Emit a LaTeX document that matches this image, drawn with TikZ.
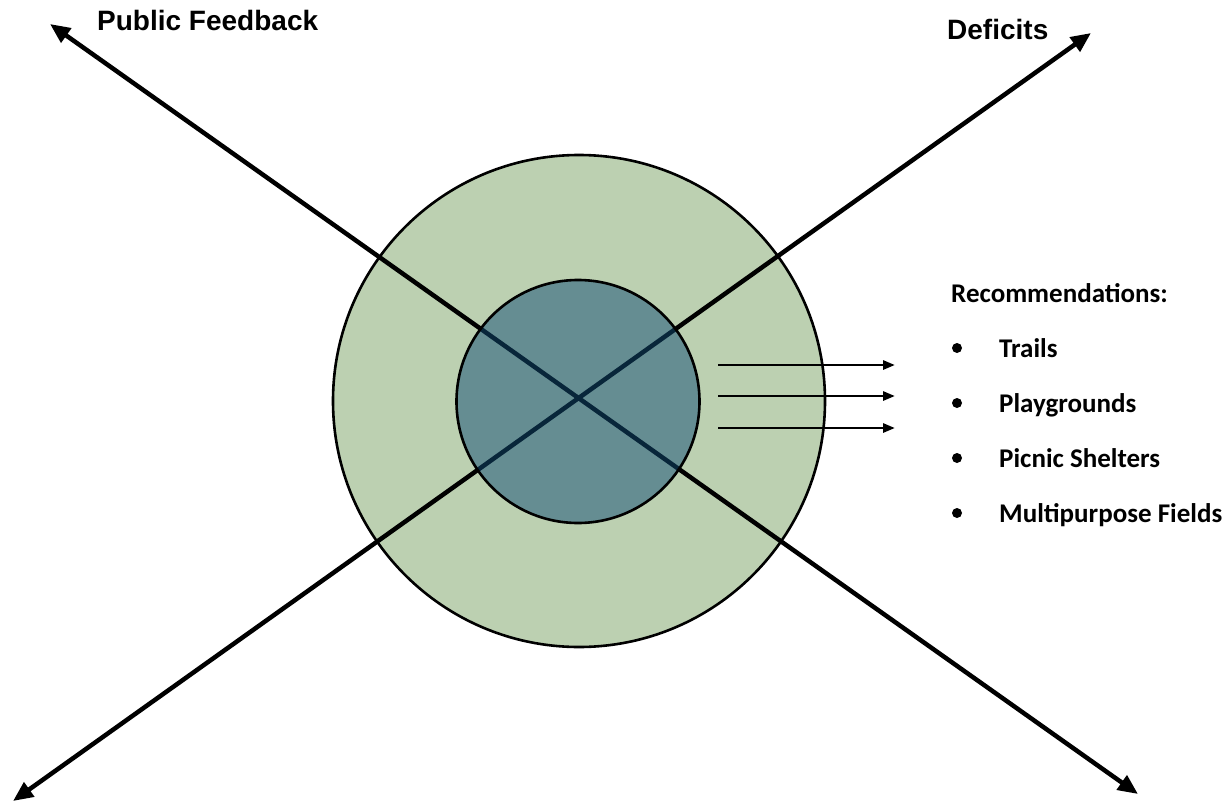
\documentclass[tikz,border=0pt]{standalone}
\usepackage{fontspec}
\setmainfont{Liberation Sans}
\newfontfamily\calib{Carlito}
\usetikzlibrary{arrows.meta}
\definecolor{ringgreen}{RGB}{188,208,177}
\definecolor{coreteal}{RGB}{16,76,116}
\tikzset{
  bigarrow/.style={line width=4.5pt,{Triangle[length=20pt,width=17pt]}-{Triangle[length=20pt,width=17pt]}},
  smallarrow/.style={line width=2.8pt,-{Triangle[length=12pt,width=9pt]}},
  headlabel/.style={font=\fontsize{28}{32}\selectfont\bfseries,anchor=base west,inner sep=0pt},
  reclabel/.style={font=\calib\fontsize{27}{32}\selectfont\bfseries,anchor=base west,inner sep=0pt},
  bulletdot/.style={circle,fill=black,minimum size=10pt,inner sep=0pt},
}
\begin{document}
\begin{tikzpicture}[x=1pt,y=-1pt]
\useasboundingbox (0,0) rectangle (1224,803);
\coordinate (ctr) at (579,401);
\node[circle,draw=black,line width=2.6pt,fill=ringgreen,minimum size=492pt,inner sep=0pt] (outer) at (ctr) {};
\coordinate (ul) at (50,24);
\coordinate (lr) at (1138,794);
\coordinate (ll) at (13,801);
\coordinate (ur) at (1091,33);
\draw[bigarrow] (ul) -- (lr);
\draw[bigarrow] (ll) -- (ur);
\node[circle,fill=coreteal,fill opacity=0.5,minimum size=243pt,inner sep=0pt] (inner) at (578,401.5) {};
\draw[line width=2.6pt] (inner) circle (121.5pt);
% small arrows
\coordinate (s1a) at (718,365); \coordinate (s1b) at (895,365);
\coordinate (s2a) at (718,396); \coordinate (s2b) at (895,396);
\coordinate (s3a) at (718,428); \coordinate (s3b) at (895,428);
\draw[smallarrow] (s1a) -- (s1b);
\draw[smallarrow] (s2a) -- (s2b);
\draw[smallarrow] (s3a) -- (s3b);
% labels
\node[headlabel] (pf) at (97,30) {Public Feedback};
\node[headlabel] (def) at (947,39) {Deficits};
\node[reclabel] (rec) at (951,302) {Recommendations:};
\node[bulletdot] (b1) at (957,348) {};
\node[reclabel] (t1) at (999,357) {Trails};
\node[bulletdot] (b2) at (957,403) {};
\node[reclabel] (t2) at (999,412) {Playgrounds};
\node[bulletdot] (b3) at (957,458) {};
\node[reclabel] (t3) at (999,467) {Picnic Shelters};
\node[bulletdot] (b4) at (957,513) {};
\node[reclabel] (t4) at (999,522) {Multipurpose Fields};
\end{tikzpicture}
\end{document}
